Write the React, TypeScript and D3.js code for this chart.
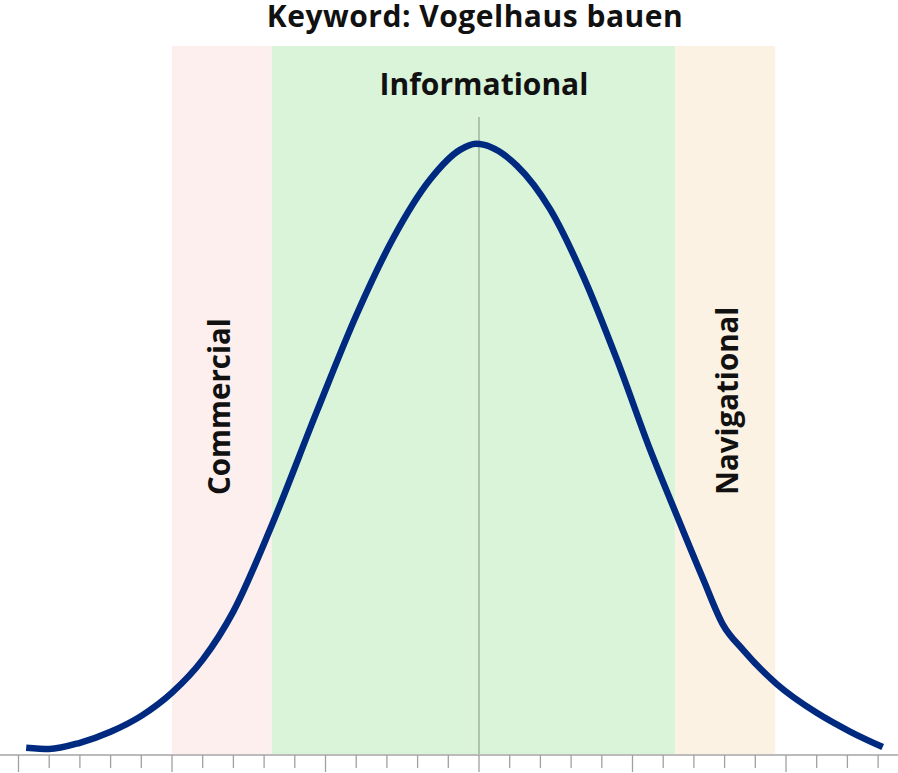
import React from 'react';
import * as d3 from 'd3';

// curve: x in axis units (0 = centre line), y in % of peak
const curveX = [-2.95, -2.8, -2.6, -2.4, -2.2, -2.0, -1.8, -1.6, -1.35, -1.055, -0.795, -0.56, -0.32, -0.124, -0.02, 0.248, 0.463, 0.678, 0.9, 1.114, 1.29, 1.46, 1.59, 1.72, 1.94, 2.2, 2.42, 2.63];
const curveY = [1.2, 1.0, 2.0, 3.8, 6.4, 10.2, 15.6, 23.5, 37.6, 56.3, 72.2, 84.5, 94.1, 99.0, 100, 96.4, 89.3, 78.4, 64.6, 50.0, 39.1, 28.8, 21.3, 17.2, 11.6, 6.9, 3.8, 1.3];

const bandNames = ['Commercial', 'Informational', 'Navigational'];
const bandStart = [-2.0, -1.35, 1.28];
const bandEnd = [-1.35, 1.28, 1.93];
const bandColors = ['#fdefee', '#daf4da', '#fcf2e4'];

const title = 'Keyword: Vogelhaus bauen';

const W = 898;
const H = 773;
const FONT = '"Open Sans", Lato, sans-serif';

export default function App() {
  const x = d3.scaleLinear().domain([-2, 2]).range([172, 786]);
  const y = d3.scaleLinear().domain([0, 116]).range([755, 46]);

  const pts: [number, number][] = curveX.map((v, i) => [v, curveY[i]]);
  const line = d3
    .line<[number, number]>()
    .x((d) => x(d[0]))
    .y((d) => y(d[1]))
    .curve(d3.curveMonotoneX);

  const ticks = d3.range(-15, 14).map((i) => i / 5);

  return (
    <div style={{ position: 'absolute', left: 0, top: 0 }}>
      <svg width={W} height={H} style={{ display: 'block' }}>
        <rect width={W} height={H} fill="#fff" />
        {bandNames.map((name, i) => (
          <rect
            key={name}
            x={x(bandStart[i])}
            y={y(116)}
            width={x(bandEnd[i]) - x(bandStart[i])}
            height={y(0) - y(116)}
            fill={bandColors[i]}
          />
        ))}
        <line x1={x(0)} x2={x(0)} y1={y(104.4)} y2={y(0)} stroke="#a3b8a3" strokeWidth={1.6} />

        {/* axis */}
        <line x1={0} x2={W} y1={y(0)} y2={y(0)} stroke="#bbbbbb" strokeWidth={2} />
        {ticks.map((t) => {
          const major = Math.abs(t - Math.round(t)) < 1e-6;
          return (
            <line
              key={t}
              x1={x(t)}
              x2={x(t)}
              y1={y(0)}
              y2={y(0) + (major ? 17 : 13)}
              stroke="#a0a0a0"
              strokeWidth={1.3}
            />
          );
        })}

        <path d={line(pts) || ''} fill="none" stroke="#002a7f" strokeWidth={6.5} />

        <text
          x={475}
          y={27}
          textAnchor="middle"
          fontFamily={FONT}
          fontWeight={700}
          fontSize={30}
          letterSpacing={0.5}
          fill="#111"
        >
          {title}
        </text>
        <text x={484} y={95} textAnchor="middle" fontFamily={FONT} fontWeight={700} fontSize={30} fill="#111">
          {bandNames[1]}
        </text>
        <text
          transform={`translate(230,495) rotate(-90)`}
          fontFamily={FONT}
          fontWeight={700}
          fontSize={29.5}
          fill="#111"
        >
          {bandNames[0]}
        </text>
        <text
          transform={`translate(738,495) rotate(-90)`}
          fontFamily={FONT}
          fontWeight={700}
          fontSize={29.5}
          fill="#111"
        >
          {bandNames[2]}
        </text>
      </svg>
    </div>
  );
}
